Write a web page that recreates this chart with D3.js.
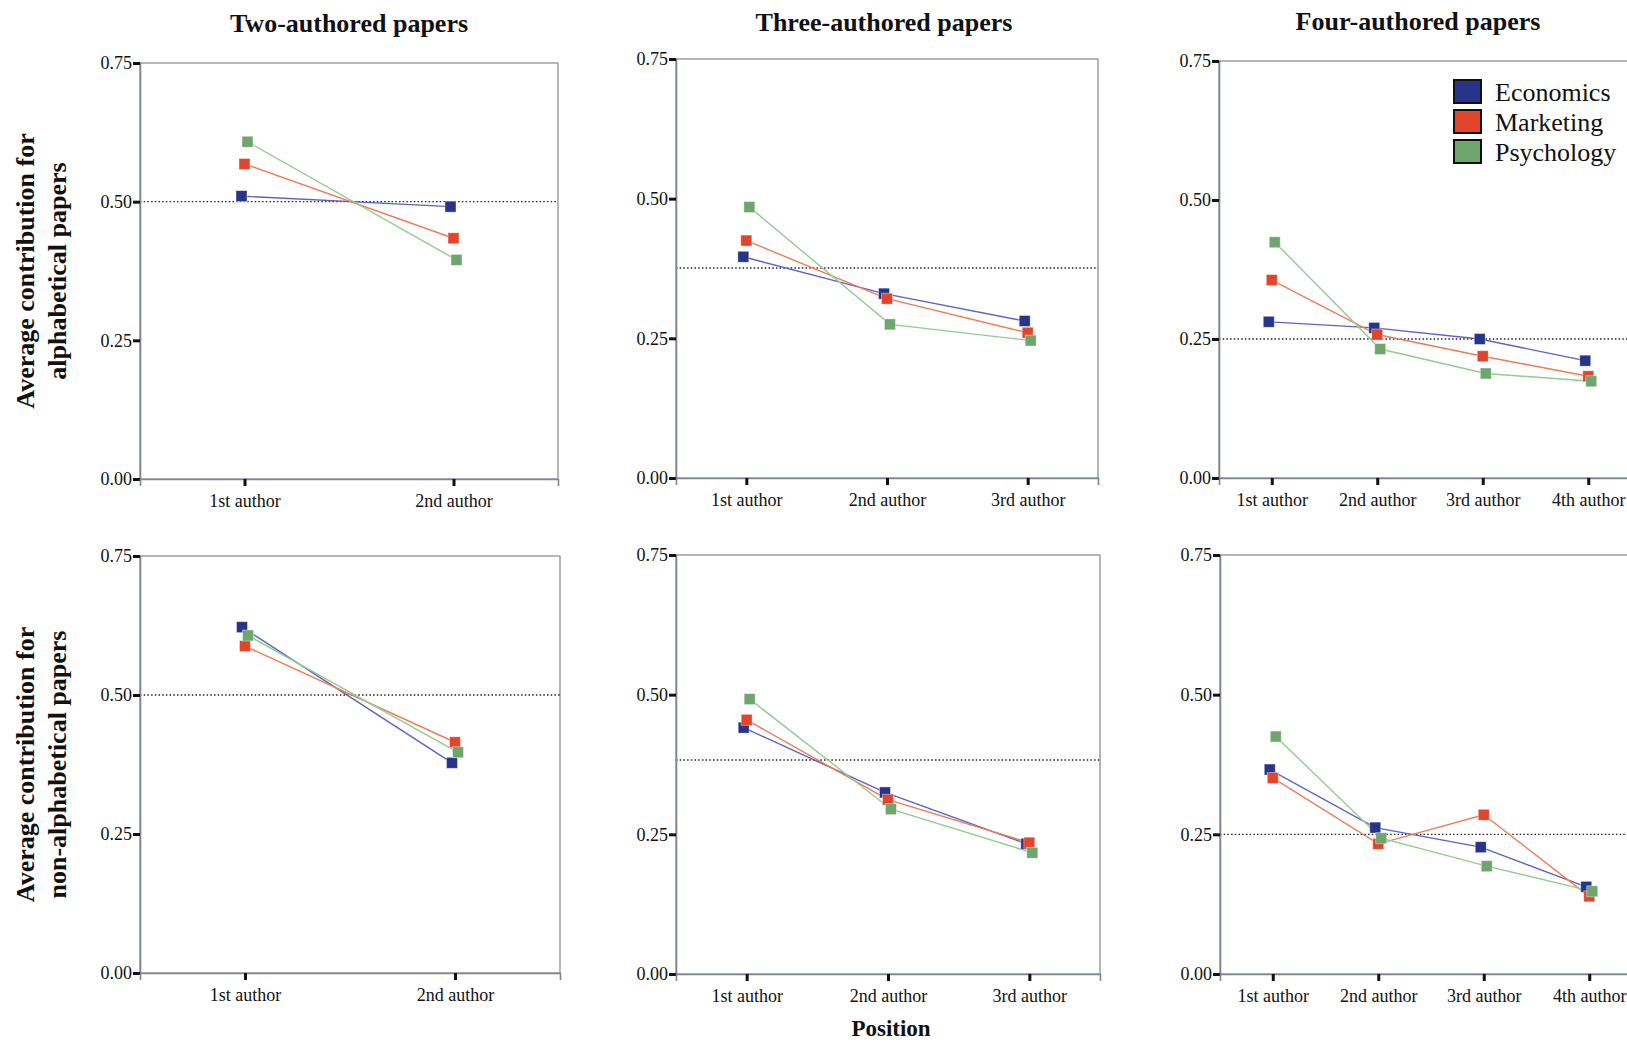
<!DOCTYPE html>
<meta charset="utf-8">
<style>
  body {
    margin: 0;
    background: #fff;
    overflow: hidden;
  }
  text {
    font-family: "Liberation Serif", "Times New Roman", serif;
    fill: #111;
  }
  .title, .ytitle, .xtitle {
    font-weight: bold;
  }
</style>
<body>
</body>
<script src="https://cdn.jsdelivr.net/npm/d3@7"></script>
<script>

var panelTitles = ["Two-authored papers", "Three-authored papers", "Four-authored papers"];
var positions = ["1st author", "2nd author", "3rd author", "4th author"];
var fields = ["Economics", "Marketing", "Psychology"];
var yTicks = [0, 0.25, 0.5, 0.75];
var rowTitles = [
  ["Average contribution for", "alphabetical papers"],
  ["Average contribution for", "non-alphabetical papers"]
];

// values per field: Economics, Marketing, Psychology
var alphaTwo = [[0.510, 0.491], [0.568, 0.434], [0.608, 0.395]];
var alphaThree = [[0.396, 0.330, 0.281], [0.425, 0.321, 0.260], [0.485, 0.275, 0.246]];
var alphaFour = [[0.281, 0.270, 0.250, 0.211], [0.356, 0.258, 0.219, 0.183], [0.424, 0.232, 0.188, 0.174]];
var nonAlphaTwo = [[0.622, 0.378], [0.588, 0.415], [0.607, 0.397]];
var nonAlphaThree = [[0.441, 0.325, 0.233], [0.455, 0.312, 0.235], [0.492, 0.295, 0.217]];
var nonAlphaFour = [[0.366, 0.262, 0.227, 0.156], [0.351, 0.233, 0.285, 0.139], [0.425, 0.243, 0.193, 0.148]];

// dotted reference line in each panel
var refAlpha = [0.50, 0.376, 0.25];
var refNonAlpha = [0.50, 0.383, 0.25];

var markerColors = {Economics: "#26358a", Marketing: "#e2452b", Psychology: "#6ea66e"};
var lineColors = {Economics: "#5c63c4", Marketing: "#f27a58", Psychology: "#92cc90"};
var dodge = {Economics: -3, Marketing: 0, Psychology: 3};

var width = 1627, height = 1042;

var svg = d3.select("body").append("svg")
    .attr("width", width)
    .attr("height", height);

var frames = [
  [{x: 140, y: 63, w: 418, h: 416}, {x: 676, y: 59, w: 422, h: 419}, {x: 1219, y: 61, w: 422, h: 417}],
  [{x: 140, y: 556, w: 420, h: 417}, {x: 676, y: 555, w: 424, h: 419}, {x: 1220, y: 555, w: 422, h: 419}]
];

var rows = [
  {data: [alphaTwo, alphaThree, alphaFour], refs: refAlpha},
  {data: [nonAlphaTwo, nonAlphaThree, nonAlphaFour], refs: refNonAlpha}
];

rows.forEach(function(row, r) {
  row.data.forEach(function(series, c) {
    drawPanel(frames[r][c], series, row.refs[c], r, c);
  });

  // row title
  var f = frames[r][0];
  var cy = f.y + f.h / 2;
  rowTitles[r].forEach(function(line, i) {
    svg.append("text")
        .attr("class", "ytitle")
        .attr("transform", "translate(" + (34 + i * 32) + "," + cy + ") rotate(-90)")
        .attr("text-anchor", "middle")
        .style("font-size", "26px")
        .text(line);
  });
});

// column titles (the right panel runs off the page, so its title sits left of centre)
var titleX = [349, 884, 1418];
panelTitles.forEach(function(t, c) {
  svg.append("text")
      .attr("class", "title")
      .attr("x", titleX[c])
      .attr("y", 32 - c)
      .attr("text-anchor", "middle")
      .style("font-size", "26px")
      .text(t);
});

svg.append("text")
    .attr("class", "xtitle")
    .attr("x", 891)
    .attr("y", 1036)
    .attr("text-anchor", "middle")
    .style("font-size", "23px")
    .text("Position");

// legend
var legend = svg.append("g")
    .attr("transform", "translate(1454,80)");

fields.forEach(function(name, i) {
  var g = legend.append("g").attr("transform", "translate(0," + (i * 30) + ")");
  g.append("rect")
      .attr("width", 27)
      .attr("height", 23)
      .attr("fill", markerColors[name])
      .attr("stroke", "#111")
      .attr("stroke-width", 2);
  g.append("text")
      .attr("x", 41)
      .attr("y", 21)
      .style("font-size", "26px")
      .text(name);
});

function drawPanel(f, series, ref, r, c) {
  var n = series[0].length;
  var g = svg.append("g")
      .attr("transform", "translate(" + f.x + "," + f.y + ")");

  var x = d3.scalePoint()
      .domain(positions.slice(0, n))
      .range([0, f.w])
      .padding(0.5);

  var y = d3.scaleLinear()
      .domain([0, 0.75])
      .range([f.h, 0]);

  g.append("rect")
      .attr("width", f.w)
      .attr("height", f.h)
      .attr("fill", "none")
      .attr("stroke", "#8c9098")
      .attr("stroke-width", 1.3);

  g.append("line")
      .attr("x1", 0)
      .attr("x2", f.w)
      .attr("y1", y(ref))
      .attr("y2", y(ref))
      .attr("stroke", "#222")
      .attr("stroke-width", 1.4)
      .attr("stroke-dasharray", "1.5,2.2");

  var yAxis = g.append("g")
      .call(d3.axisLeft(y)
        .tickValues(yTicks)
        .tickFormat(d3.format(".2f"))
        .tickSize(7)
        .tickPadding(1));

  var xAxis = g.append("g")
      .attr("transform", "translate(0," + f.h + ")")
      .call(d3.axisBottom(x)
        .tickSize(7)
        .tickPadding(8));

  [yAxis, xAxis].forEach(function(a) {
    a.select(".domain")
        .attr("stroke", "#7f8592")
        .attr("stroke-width", 1.6);
    a.selectAll(".tick line")
        .attr("stroke", "#111")
        .attr("stroke-width", 3);
    a.selectAll(".tick text")
        .style("font-family", '"Liberation Serif", serif')
        .style("font-size", "18px")
        .attr("fill", "#111");
  });

  var line = d3.line()
      .x(function(d) { return x(d.pos) + d.off; })
      .y(function(d) { return y(d.value); });

  var pts = series.map(function(vals, s) {
    return vals.map(function(v, i) {
      return {pos: positions[i], value: v, field: fields[s], off: dodge[fields[s]]};
    });
  });

  g.selectAll(".series")
      .data(pts)
    .enter().append("path")
      .attr("class", "series")
      .attr("d", line)
      .attr("fill", "none")
      .attr("stroke", function(d) { return lineColors[d[0].field]; })
      .attr("stroke-width", 1.4);

  g.selectAll(".marker")
      .data(d3.merge(pts))
    .enter().append("rect")
      .attr("class", "marker")
      .attr("x", function(d) { return x(d.pos) + d.off - 5.5; })
      .attr("y", function(d) { return y(d.value) - 5.5; })
      .attr("width", 11)
      .attr("height", 11)
      .attr("fill", function(d) { return markerColors[d.field]; })
      .attr("stroke", "#fff")
      .attr("stroke-opacity", 0.5)
      .attr("stroke-width", 0.8);
}
</script>
